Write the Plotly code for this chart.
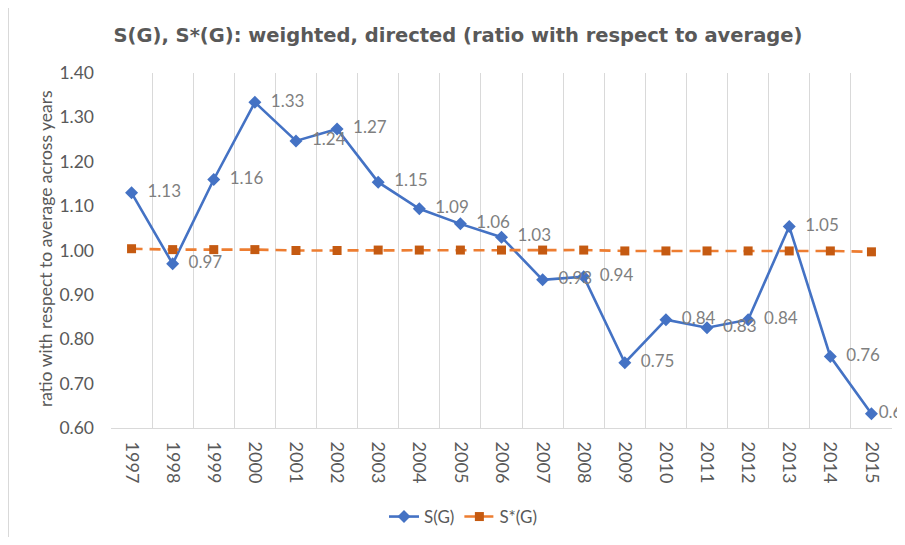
import plotly.graph_objects as go

years = [str(y) for y in range(1997, 2016)]
s_g = [1.13, 0.97, 1.16, 1.334, 1.247, 1.274, 1.154, 1.094, 1.06, 1.03, 0.934, 0.941,
       0.747, 0.844, 0.826, 0.844, 1.054, 0.761, 0.632]
s_star_g = [1.004, 1.002, 1.002, 1.002, 1.000, 1.000, 1.001, 1.001, 1.001, 1.001, 1.001,
            1.001, 0.999, 0.999, 0.999, 0.999, 0.999, 0.999, 0.997]
s_g_labels = ["1.13", "0.97", "1.16", "1.33", "1.24", "1.27", "1.15", "1.09", "1.06", "1.03",
              "0.93", "0.94", "0.75", "0.84", "0.83", "0.84", "1.05", "0.76", "0.63"]
y_ticks = [0.6, 0.7, 0.8, 0.9, 1.0, 1.1, 1.2, 1.3, 1.4]

idx = list(range(len(years)))
FONT = "Lato, Liberation Sans, sans-serif"

OFF = 8  # page body margin
W, H = 905 - 2 * OFF, 545 - 2 * OFF
PLOT_L, PLOT_R, PLOT_T, PLOT_B = 111, 892, 73, 428  # screen pixels
L, T = PLOT_L - OFF, PLOT_T - OFF
R = W - (PLOT_R - OFF)
B = H - (PLOT_B - OFF)
PW, PH = W - L - R, H - T - B

def px_x(p):  # p in screen pixels
    return (p - PLOT_L) / PW

def px_y(p):
    return (PLOT_B - p) / PH

texts = ["  " + t for t in s_g_labels[:-1]] + [s_g_labels[-1]]

fig = go.Figure()
fig.add_trace(go.Scatter(
    x=idx, y=s_g, name="S(G)", mode="lines+markers+text",
    line=dict(color="#4472C4", width=2.6),
    marker=dict(symbol="diamond", size=10, color="#4472C4"),
    text=texts, textposition="middle right",
    textfont=dict(size=17, color="#7F7F7F", family=FONT),
    cliponaxis=False,
))
fig.add_trace(go.Scatter(
    x=idx, y=s_star_g, name="S*(G)", mode="lines+markers",
    line=dict(color="#ED7D31", width=2.6, dash="11px,7px"),
    marker=dict(symbol="square", size=9, color="#C55A11"),
    cliponaxis=False,
))

fig.update_layout(
    width=W, height=H,
    margin=dict(l=L, r=R, t=T, b=B, autoexpand=False),
    paper_bgcolor="white", plot_bgcolor="white",
    font=dict(family=FONT, color="#595959", size=17),
    title=dict(text="<b>S(G), S*(G): weighted, directed (ratio with respect to average)</b>",
               x=px_x(458), xanchor="center", xref="paper",
               y=1 - (35 - OFF) / H, yanchor="middle",
               font=dict(size=19.5, color="#595959", family="DejaVu Sans, sans-serif")),
    showlegend=True,
    legend=dict(orientation="h", x=px_x(463), xanchor="center", y=px_y(517), yanchor="middle",
                font=dict(size=17, color="#595959", family=FONT), itemwidth=30),
    annotations=[dict(text="ratio with respect to average across years", textangle=-90,
                      xref="paper", yref="paper", x=px_x(45), y=px_y(249),
                      xanchor="center", yanchor="middle", showarrow=False,
                      font=dict(size=17.5, color="#595959", family=FONT))],
    shapes=[dict(type="rect", xref="paper", yref="paper",
                 x0=px_x(8.5), x1=px_x(940), y0=px_y(580), y1=px_y(6),
                 line=dict(color="#D9D9D9", width=1), layer="below")],
)
fig.update_xaxes(
    range=[-0.5, len(years) - 0.5], tickvals=idx, ticktext=years, tickangle=90,
    showgrid=False, showline=True, linecolor="#D9D9D9", linewidth=1,
    ticks="", zeroline=False, automargin=False, ticklabelstandoff=9,
    tickfont=dict(size=18, color="#595959", family=FONT),
    minor=dict(tick0=0.5, dtick=1, showgrid=True, gridcolor="#D9D9D9", gridwidth=1, ticks=""),
)
fig.update_yaxes(
    range=[0.6, 1.4], tickvals=y_ticks, tickformat=".2f",
    showgrid=False, zeroline=False, showline=False, ticks="", automargin=False,
    ticklabelstandoff=16,
    tickfont=dict(size=17.5, color="#595959", family=FONT),
)
fig.write_html("out.html")
